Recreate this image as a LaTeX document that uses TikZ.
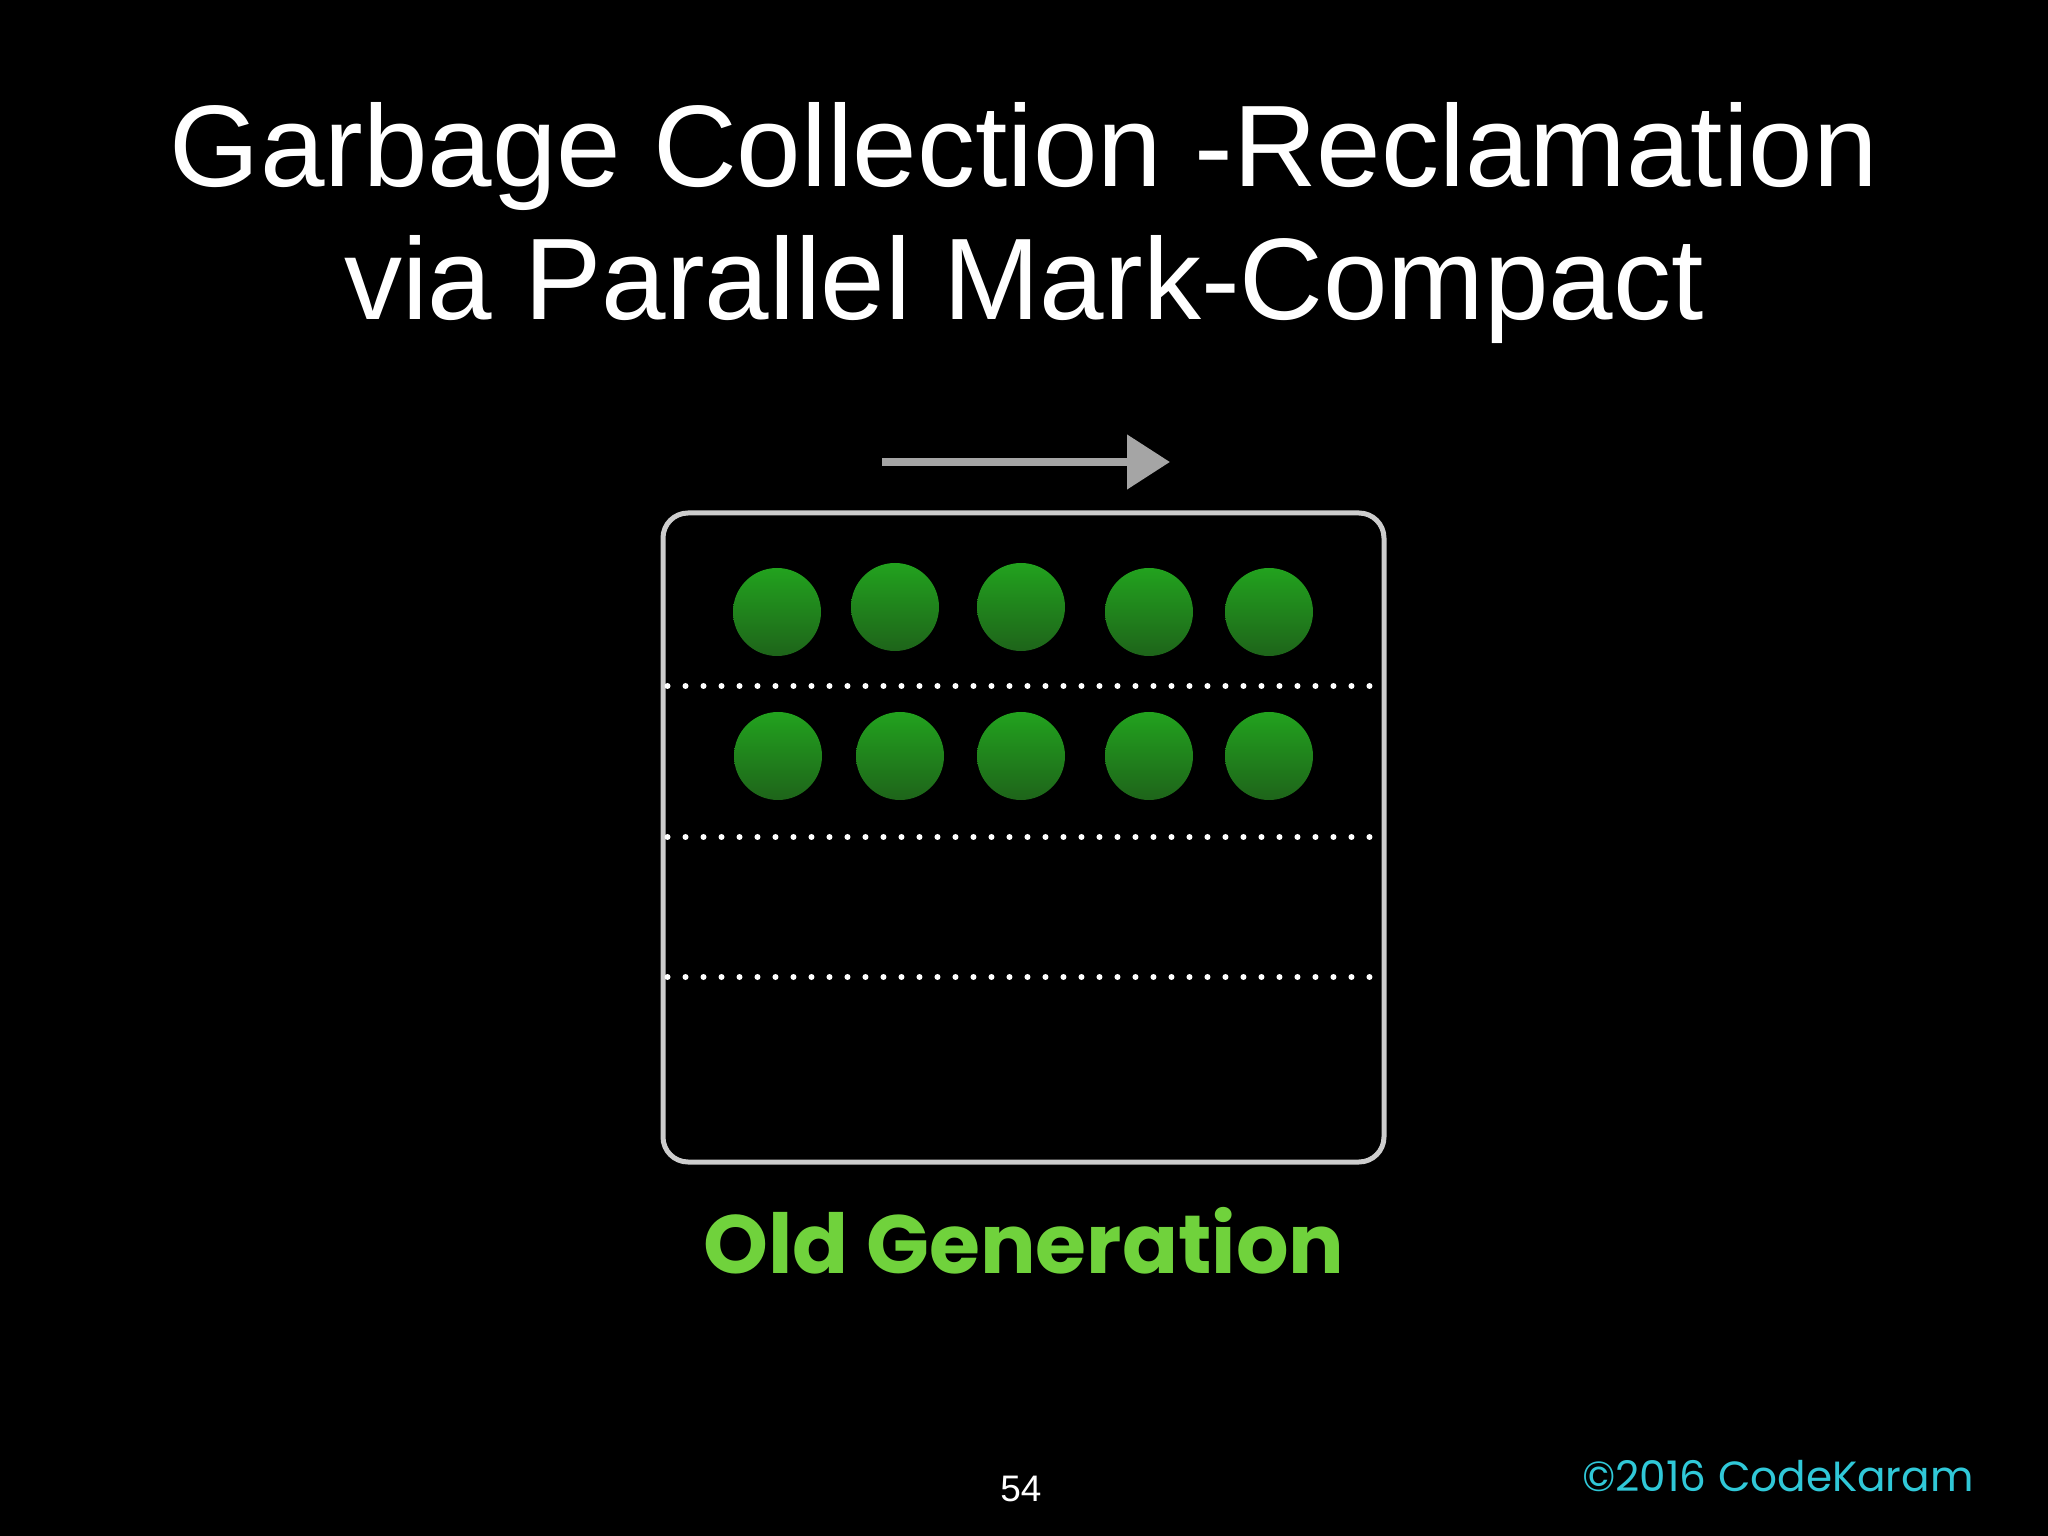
\documentclass[tikz,border=0pt]{standalone}
\usepackage{fontspec}
\setmainfont{Liberation Sans}
\newfontfamily\chalkfont{Poppins}
\usetikzlibrary{arrows.meta, positioning}

\definecolor{chalkgray}{RGB}{165,165,165}
\definecolor{boxgray}{RGB}{205,205,205}
\definecolor{objtop}{RGB}{34,162,30}
\definecolor{objbottom}{RGB}{30,100,26}
\definecolor{oldgreen}{RGB}{112,210,60}
\definecolor{markcyan}{RGB}{48,200,216}

\begin{document}
\begin{tikzpicture}[obj/.style={circle, minimum size=0.88cm, inner sep=0pt, top color=objtop, bottom color=objbottom},
    rowline/.style={white, line width=0.06cm, line cap=round, dash pattern=on 0pt off 0.18cm}]
        % slide
        \fill[black] (0,0) rectangle (20.48,-15.36);
        \useasboundingbox (0,0) rectangle (20.48,-15.36);

        \node (title1) [anchor=base, white, font=\fontsize{33}{40}\selectfont] at (10.24,-1.87) {Garbage Collection -Reclamation};
        \node (title2) [anchor=base, white, font=\fontsize{33}{40}\selectfont] at (10.24,-3.20) {via Parallel Mark-Compact};

        % old generation space
        \node (oldgen) [draw=boxgray, line width=0.05cm, rounded corners=0.25cm, minimum width=7.21cm, minimum height=6.49cm] at (10.235,-8.375) {};

        \coordinate (arrstart) at (8.82,-4.62);
        \coordinate (arrend) at (11.70,-4.62);
        \draw [chalkgray, line width=0.08cm, -{Triangle[length=0.43cm, width=0.53cm]}] (arrstart) -- (arrend);

        \coordinate (row1) at (0,-6.86);
        \coordinate (row2) at (0,-8.37);
        \coordinate (row3) at (0,-9.77);
        \draw [rowline] ([xshift=0.07cm]oldgen.west |- row1) -- ([xshift=-0.07cm]oldgen.east |- row1);
        \draw [rowline] ([xshift=0.07cm]oldgen.west |- row2) -- ([xshift=-0.07cm]oldgen.east |- row2);
        \draw [rowline] ([xshift=0.07cm]oldgen.west |- row3) -- ([xshift=-0.07cm]oldgen.east |- row3);

        % live objects
        \node (obja) [obj] at (7.77,-6.12) {};
        \node (objb) [obj] at (8.95,-6.07) {};
        \node (objc) [obj] at (10.21,-6.07) {};
        \node (objd) [obj] at (11.49,-6.12) {};
        \node (obje) [obj] at (12.69,-6.12) {};
        \node (objf) [obj] at (7.78,-7.56) {};
        \node (objg) [obj] at (9.00,-7.56) {};
        \node (objh) [obj] at (10.21,-7.56) {};
        \node (obji) [obj] at (11.49,-7.56) {};
        \node (objj) [obj] at (12.69,-7.56) {};

        \node (oldlabel) [oldgreen, font=\chalkfont\bfseries\fontsize{23.5}{28}\selectfont] at (10.24,-12.41) {Old Generation};
        \node (pagenum) [white, font=\fontsize{10.5}{12}\selectfont] at (10.21,-14.89) {54};
        \node (copyright) [markcyan, font=\chalkfont\fontsize{12}{14}\selectfont] at (17.78,-14.76) {©2016 CodeKaram};
    \end{tikzpicture}
\end{document}
